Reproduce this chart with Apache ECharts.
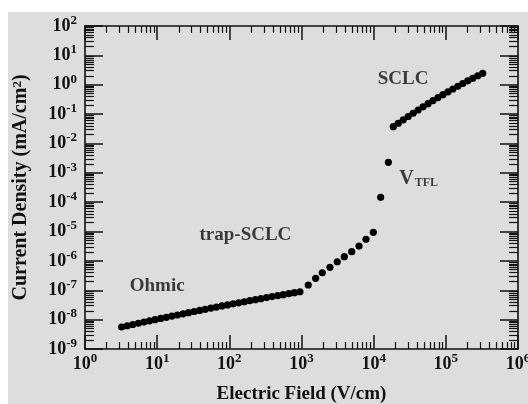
<!DOCTYPE html>
<html>
<head>
<meta charset="utf-8">
<script src="https://cdn.jsdelivr.net/npm/echarts@6/dist/echarts.min.js"></script>
<style>
  html, body { margin: 0; padding: 0; background: #ffffff; }
  #panel { position: absolute; left: 8px; top: 12px; width: 520px; height: 392px; background: #dcdddf; }
  #chart { position: absolute; left: 0; top: 0; width: 528px; height: 404px; }
</style>
</head>
<body>
<div id="panel"></div>
<div id="chart"></div>
<script>
// J–E characteristic: field (V/cm) and current density (mA/cm^2)
const ohmicField = [3.22, 3.85, 4.59, 5.49, 6.56, 7.83, 9.36, 11.2, 13.4, 16.0, 19.1, 22.8, 27.2,
  32.5, 38.8, 46.3, 55.4, 66.1, 79.0, 94.4, 113, 135, 161, 192, 230, 274, 328, 391, 468, 558,
  667, 796, 951];
const ohmicCurrent = [5.62e-9, 6.20e-9, 6.83e-9, 7.52e-9, 8.27e-9, 9.10e-9, 1.00e-8, 1.10e-8,
  1.20e-8, 1.32e-8, 1.44e-8, 1.58e-8, 1.73e-8, 1.89e-8, 2.06e-8, 2.25e-8, 2.46e-8, 2.68e-8,
  2.92e-8, 3.17e-8, 3.45e-8, 3.75e-8, 4.07e-8, 4.42e-8, 4.79e-8, 5.19e-8, 5.62e-8, 6.08e-8,
  6.57e-8, 7.10e-8, 7.66e-8, 8.27e-8, 8.91e-8];

const trapField = [1240, 1570, 1940, 2480, 3130, 3920, 4960, 6270, 7830, 9890];
const trapCurrent = [1.51e-7, 2.55e-7, 3.95e-7, 6.04e-7, 9.38e-7, 1.39e-6, 2.06e-6, 3.21e-6,
  5.43e-6, 9.40e-6];

const tflField = [12500, 16000];
const tflCurrent = [1.46e-4, 2.28e-3];

const sclcField = [18700, 21900, 25700, 30100, 35200, 41300, 48400, 56800, 66400, 77800, 91200,
  106900, 125300, 146600, 171800, 201400, 236000, 276700, 324300];
const sclcCurrent = [0.0372, 0.0488, 0.0637, 0.0828, 0.107, 0.138, 0.177, 0.226, 0.288, 0.364,
  0.458, 0.574, 0.716, 0.889, 1.10, 1.36, 1.66, 2.02, 2.45];

// Region annotations, anchored in data space
const regionNames = ['Ohmic', 'trap-SCLC', 'SCLC', '{v|V}{sub|TFL}'];
const regionField = [10, 167, 25500, 42000];
const regionCurrent = [1.39e-7, 7.6e-6, 1.57, 6.2e-4];

// Axis decades
const fieldTicks = [1, 10, 100, 1000, 1e4, 1e5, 1e6];
const currentTicks = [1e-9, 1e-8, 1e-7, 1e-6, 1e-5, 1e-4, 1e-3, 1e-2, 1e-1, 1, 10, 100];

function minorOf(decades) {
  const out = [];
  for (let i = 0; i < decades.length - 1; i++) {
    for (let m = 2; m <= 9; m++) out.push(m * decades[i]);
  }
  return out;
}
const fieldMinor = minorOf(fieldTicks);
const currentMinor = minorOf(currentTicks);

function zip(a, b) { return a.map((v, i) => [v, b[i]]); }

const FONT = 'Liberation Serif';
const INK = '#111111';

const powRich = {
  b: { fontFamily: FONT, fontWeight: 'bold', fontSize: 18, color: INK, lineHeight: 24 },
  s: { fontFamily: FONT, fontWeight: 'bold', fontSize: 13, color: INK, verticalAlign: 'top', lineHeight: 12 }
};
function powLabel(v) {
  const e = Math.round(Math.log10(v));
  return '{b|10}{s|' + e + '}';
}

function axisBase(kind, extra) {
  const isX = kind === 'x';
  return Object.assign({
    type: 'log',
    logBase: 10,
    min: isX ? 1 : 1e-9,
    max: isX ? 1e6 : 100,
    splitLine: { show: false },
    axisLine: { show: false },
    axisLabel: { show: false },
    axisTick: { show: false }
  }, extra);
}

function majorTicks(kind, len) {
  return { show: true, inside: true, length: len,
    customValues: kind === 'x' ? fieldTicks : currentTicks,
    lineStyle: { color: INK, width: 1.5 } };
}
function minorTicks(kind, len) {
  return { show: true, inside: true, length: len,
    customValues: kind === 'x' ? fieldMinor : currentMinor,
    lineStyle: { color: INK, width: 1.2 } };
}
const axisLine = { show: true, lineStyle: { color: INK, width: 1.6 } };

const chart = echarts.init(document.getElementById('chart'), null, { renderer: 'canvas' });

function dots(field, current) {
  return {
    type: 'scatter', xAxisIndex: 0, yAxisIndex: 0,
    symbol: 'circle', symbolSize: 7.2,
    itemStyle: { color: '#000000', opacity: 1 },
    data: zip(field, current), z: 5
  };
}

chart.setOption({
  animation: false,
  backgroundColor: 'transparent',
  grid: { left: 85, right: 10, top: 26, bottom: 55, containLabel: false, outerBoundsMode: 'none' },
  xAxis: [
    axisBase('x', {
      position: 'bottom',
      axisLine: axisLine,
      axisTick: majorTicks('x', 14),
      axisLabel: {
        show: true, margin: 3, customValues: fieldTicks,
        formatter: powLabel, rich: powRich
      },
      name: 'Electric Field (V/cm)',
      nameLocation: 'middle',
      nameGap: 36,
      nameTextStyle: { fontFamily: FONT, fontWeight: 'bold', fontSize: 19, color: INK }
    }),
    axisBase('x', { position: 'bottom', axisTick: minorTicks('x', 7) }),
    axisBase('x', { position: 'top', axisLine: axisLine, axisTick: majorTicks('x', 14) }),
    axisBase('x', { position: 'top', axisTick: minorTicks('x', 7) })
  ],
  yAxis: [
    axisBase('y', {
      position: 'left',
      axisLine: axisLine,
      axisTick: majorTicks('y', 18),
      axisLabel: {
        show: true, margin: 8, customValues: currentTicks,
        formatter: powLabel, rich: powRich
      },
      name: 'Current Density (mA/cm{s|2})',
      nameLocation: 'middle',
      nameGap: 54,
      nameTextStyle: {
        fontFamily: FONT, fontWeight: 'bold', fontSize: 20, color: INK,
        rich: {
          s: { fontFamily: FONT, fontWeight: 'bold', fontSize: 13, color: INK, verticalAlign: 'top', lineHeight: 12 }
        }
      }
    }),
    axisBase('y', { position: 'left', axisTick: minorTicks('y', 9) }),
    axisBase('y', { position: 'right', axisLine: axisLine, axisTick: majorTicks('y', 18) }),
    axisBase('y', { position: 'right', axisTick: minorTicks('y', 9) })
  ],
  series: [
    dots(ohmicField, ohmicCurrent),
    dots(trapField, trapCurrent),
    dots(tflField, tflCurrent),
    dots(sclcField, sclcCurrent),
    {
      type: 'scatter', xAxisIndex: 0, yAxisIndex: 0,
      symbolSize: 0, silent: true, z: 6,
      data: regionField.map((f, i) => [f, regionCurrent[i], regionNames[i]]),
      label: {
        show: true, position: 'inside',
        formatter: p => p.data[2],
        fontFamily: FONT, fontWeight: 'bold', fontSize: 19, color: INK,
        rich: {
          v: { fontFamily: FONT, fontWeight: 'bold', fontSize: 20, color: INK },
          sub: { fontFamily: FONT, fontWeight: 'bold', fontSize: 12, color: INK, verticalAlign: 'bottom', lineHeight: 12, padding: [0, 0, 0, 1] }
        }
      }
    }
  ]
});
</script>
</body>
</html>
